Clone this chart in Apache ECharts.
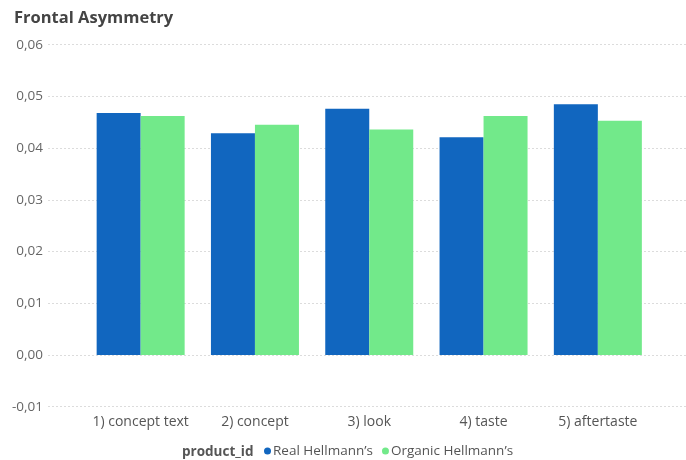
<!DOCTYPE html>
<html>
<head>
<meta charset="utf-8">
<script src="https://cdn.jsdelivr.net/npm/echarts@6/dist/echarts.min.js"></script>
<style>
  html, body { margin: 0; padding: 0; background: #fff; }
  #chart { width: 686px; height: 460px; }
</style>
</head>
<body>
<div id="chart"></div>
<script>
// Frontal asymmetry per product stage
const categories = ['1) concept text', '2) concept', '3) look', '4) taste', '5) aftertaste'];
const realHellmanns = [0.0468, 0.0429, 0.0476, 0.0421, 0.0485];
const organicHellmanns = [0.0462, 0.0445, 0.0436, 0.0462, 0.0453];
const seriesNames = ['Real Hellmann’s', 'Organic Hellmann’s'];
const yMin = -0.01, yMax = 0.06, yStep = 0.01;

const FONT = '"Open Sans", "Noto Sans", sans-serif';
const fmt = v => v.toFixed(2).replace('.', ',');

const chart = echarts.init(document.getElementById('chart'), null, { renderer: 'canvas' });

chart.setOption({
  animation: false,
  textStyle: { fontFamily: FONT },
  title: {
    text: 'Frontal Asymmetry',
    left: 9, top: 5,
    textStyle: { fontFamily: FONT, fontSize: 16.5, fontWeight: 'bold', color: '#444' }
  },
  legend: {
    data: seriesNames,
    left: 264, top: 444, padding: 0,
    icon: 'circle', itemWidth: 7, itemHeight: 7, itemGap: 9,
    textStyle: { fontFamily: FONT, fontSize: 13.5, color: '#555', padding: [0, 0, 0, -3] }
  },
  graphic: [{
    type: 'text', x: 182, y: 452.5,
    style: { text: 'product_id', font: 'bold 13.5px ' + FONT, fill: '#555', textVerticalAlign: 'middle' }
  }],
  grid: [
    // full-width grid carrying the value labels and dotted gridlines
    { left: 48, right: 0, top: 44.7, bottom: 460 - 406.7 },
    // narrower grid holding the bars
    { left: 83.5, right: 31, top: 44.7, bottom: 460 - 406.7 }
  ],
  xAxis: [
    { gridIndex: 0, type: 'category', data: categories, show: false },
    {
      gridIndex: 1, type: 'category', data: categories,
      axisLine: { show: false }, axisTick: { show: false },
      axisLabel: { interval: 0, fontFamily: FONT, fontSize: 14, color: '#555', margin: 8 }
    }
  ],
  yAxis: [
    {
      gridIndex: 0, type: 'value', min: yMin, max: yMax, interval: yStep,
      axisLine: { show: false }, axisTick: { show: false },
      axisLabel: { formatter: fmt, fontFamily: FONT, fontSize: 13.5, color: '#666', margin: 5 },
      splitLine: { lineStyle: { type: [2, 2], color: '#dcdcdc', width: 1 } }
    },
    {
      gridIndex: 1, type: 'value', min: yMin, max: yMax, interval: yStep,
      show: false, splitLine: { show: false }
    }
  ],
  series: [
    {
      name: seriesNames[0], type: 'bar', xAxisIndex: 1, yAxisIndex: 1,
      data: realHellmanns, barWidth: 44, barGap: '0%',
      itemStyle: { color: '#1166bf' }
    },
    {
      name: seriesNames[1], type: 'bar', xAxisIndex: 1, yAxisIndex: 1,
      data: organicHellmanns, barWidth: 44, barGap: '0%',
      itemStyle: { color: '#72e98a' }
    }
  ]
});
</script>
</body>
</html>
